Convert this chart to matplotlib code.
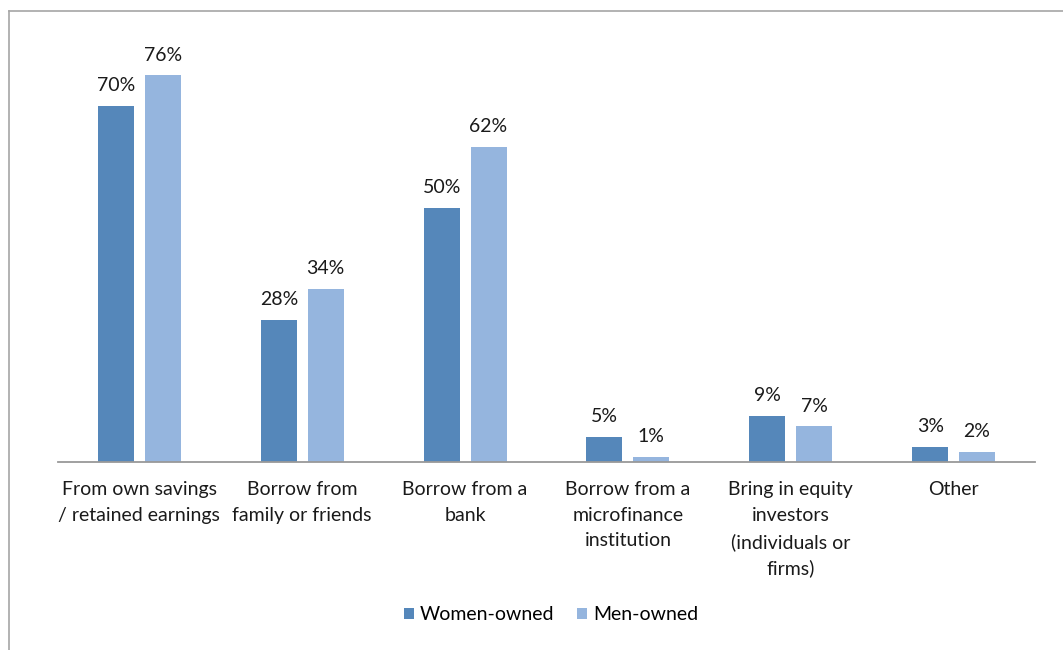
import matplotlib
matplotlib.use("Agg")
import matplotlib.pyplot as plt
from matplotlib.lines import Line2D
import numpy as np

categories = ["From own savings\n/ retained earnings", "Borrow from\nfamily or friends",
              "Borrow from a\nbank", "Borrow from a\nmicrofinance\ninstitution",
              "Bring in equity\ninvestors\n(individuals or\nfirms)", "Other"]
women = [70, 28, 50, 5, 9, 3]
men = [76, 34, 62, 1, 7, 2]
series_names = ["Women-owned", "Men-owned"]

plt.rcParams['font.family'] = ['Lato', 'DejaVu Sans']

fig = plt.figure(figsize=(10.63, 6.5), dpi=100)
ax = fig.add_axes([58/1063, 1-462/650, (1035-58)/1063, (462-55)/650])

x = np.arange(len(categories))
w = 0.221
off = 0.144
c_w = "#5587BA"
c_m = "#95B5DE"
b1 = ax.bar(x - off, women, w, color=c_w, label=series_names[0])
b2 = ax.bar(x + off, men, w, color=c_m, label=series_names[1])

for bars, vals in ((b1, women), (b2, men)):
    for r, v in zip(bars, vals):
        ax.annotate(f"{v}%", (r.get_x() + r.get_width()/2, r.get_height()),
                    xytext=(0, 8.5), textcoords="offset points", ha="center", va="bottom",
                    fontsize=14, color="#1a1a1a")

ax.set_xlim(-0.5, len(categories) - 0.5)
ax.set_ylim(0, 80)
ax.set_xticks(x)
ax.set_xticklabels(categories, fontsize=14, color="#1a1a1a", linespacing=1.6)
ax.tick_params(axis="x", length=0, pad=14)
ax.set_yticks([])
for s in ["top", "right", "left"]:
    ax.spines[s].set_visible(False)
ax.spines["bottom"].set_color("#999999")
ax.spines["bottom"].set_linewidth(1.3)

leg = fig.legend(handles=[b1, b2], labels=series_names, loc="center", bbox_to_anchor=(551/1063, 1-615/650),
                 ncol=2, frameon=False, fontsize=14, handlelength=0.52, handleheight=0.52,
                 handletextpad=0.3, columnspacing=1.2)

fig.add_artist(Line2D([9/1063, 1], [1-11/650, 1-11/650], color="#A6A6A6", lw=1.2, transform=fig.transFigure))
fig.add_artist(Line2D([9/1063, 9/1063], [1-11/650, 0], color="#A6A6A6", lw=1.2, transform=fig.transFigure))

fig.savefig("out.png", dpi=100)
